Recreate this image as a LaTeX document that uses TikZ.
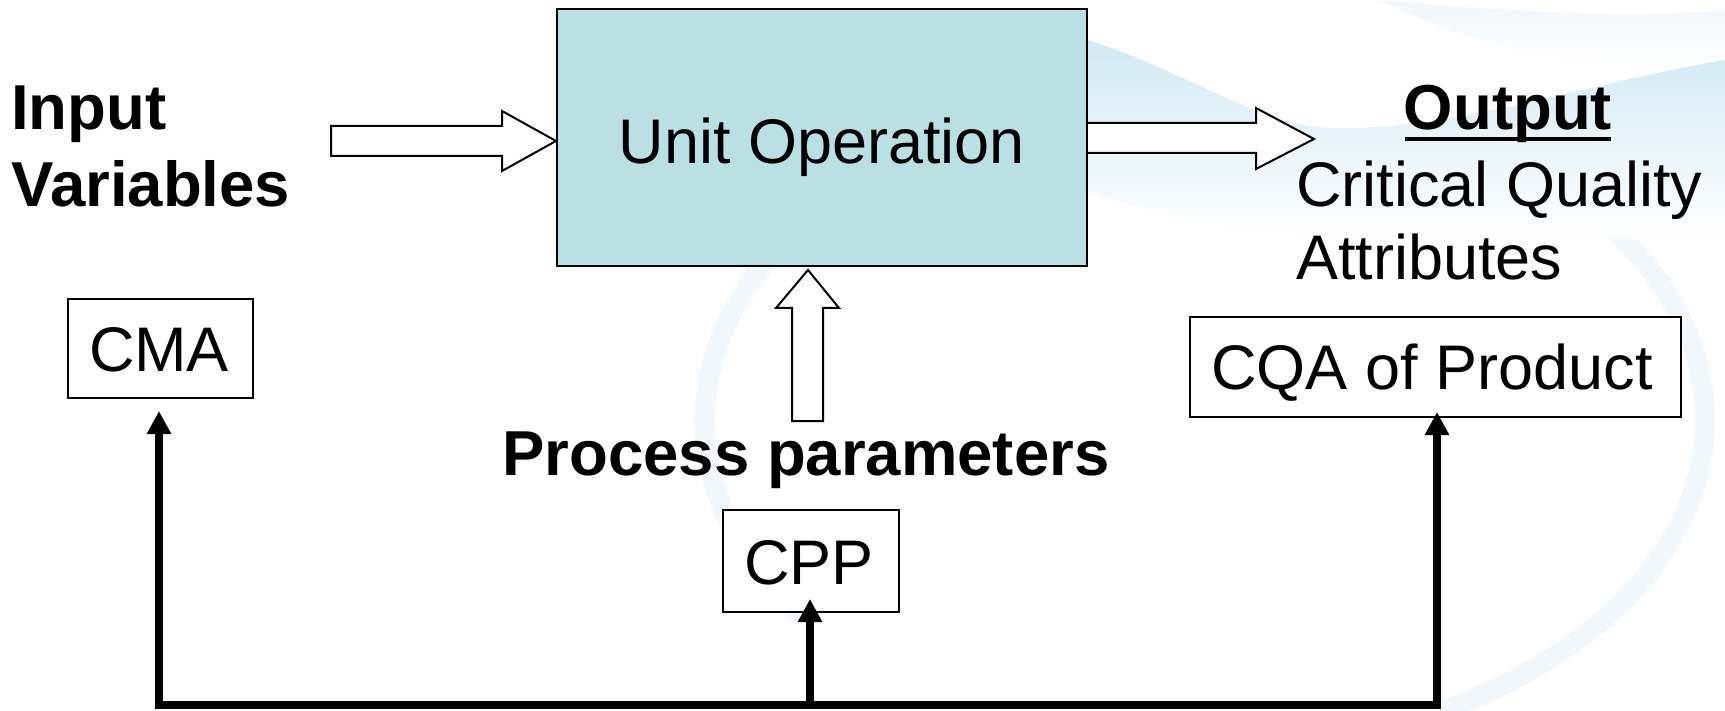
\documentclass[tikz,border=0pt]{standalone}
\usepackage{fontspec}
\setmainfont{Liberation Sans}
\usetikzlibrary{arrows.meta,calc}
\definecolor{uofill}{RGB}{187,224,228}
\definecolor{swirl}{RGB}{205,231,242}
\definecolor{ringc}{RGB}{241,247,251}

\begin{document}
\begin{tikzpicture}[x=1pt,y=-1pt,
  txt/.style={inner sep=0pt, font=\fontsize{63}{74}\selectfont},
  btxt/.style={inner sep=0pt, font=\fontsize{63.5}{76}\selectfont\bfseries},
  frame/.style={draw=black, line width=2.5pt, inner sep=0pt, fill=white},
  blockarrow/.style={draw=black, line width=2pt, fill=white, line join=miter},
  fb/.style={line width=8pt, line join=miter, line cap=butt},
  fbtip/.style={-{Triangle[length=23pt,width=23pt]}},
  ring/.style={ringc, line width=20pt}
]
\useasboundingbox (0,0) rectangle (1725,711);

% soft background swirl: two faint arcs of a large ring and a swoosh
\begin{scope}
  \clip (600,200) rectangle (800,620);
  \draw[ring] (1205,420) ellipse [x radius=500, y radius=330];
\end{scope}
\begin{scope}
  \clip (1440,220) rectangle (1725,711);
  \draw[ring] (1205,420) ellipse [x radius=500, y radius=330];
\end{scope}
\begin{scope}
  \clip (0,0) rectangle (1725,711);
  \path[top color=swirl, bottom color=white]
    (1000,20) .. controls (1150,40) and (1240,125) .. (1330,128)
    .. controls (1450,132) and (1600,80) .. (1725,60)
    -- (1725,240) .. controls (1600,240) and (1450,235) .. (1330,235)
    .. controls (1200,230) and (1100,200) .. (1000,160) -- cycle;
  \path[top color=ringc, bottom color=white]
    (1380,0) .. controls (1500,10) and (1620,20) .. (1725,10)
    -- (1725,60) .. controls (1620,70) and (1500,60) .. (1380,0) -- cycle;
\end{scope}

% process block
\node[draw=black, line width=2pt, fill=uofill, minimum width=530pt, minimum height=257pt] (uo) at (822,137.5) {};
\node[txt, anchor=base] (uotext) at (822,164) {Unit Operation};

% input side
\node[btxt, anchor=base west] (input) at (11,130) {Input};
\node[btxt, anchor=base west] (vars) at (11,207) {Variables};
\node[frame, minimum width=185pt, minimum height=99pt] (cma) at (160.5,348.5) {};
\node[txt, anchor=base] (cmatext) at (159,372) {CMA};

% output side
\node[btxt, anchor=base] (out) at (1508,130) {Output};
\draw[line width=4.5pt] ($(out.base west)+(1,9)$) -- ($(out.base east)+(-1,9)$);
\node[txt, anchor=base west] (cqa1) at (1296,207) {Critical Quality};
\node[txt, anchor=base west] (cqa2) at (1296,280) {Attributes};
\node[frame, minimum width=491pt, minimum height=100pt] (cqa) at (1435.5,367) {};
\node[txt, anchor=base] (cqatext) at (1432,389) {CQA of Product};

% process parameters
\node[btxt, anchor=base] (pp) at (806,475) {Process parameters};
\node[frame, minimum width=176pt, minimum height=102pt] (cpp) at (811,561) {};
\node[txt, anchor=base] (cpptext) at (809,584) {CPP};

% hollow block arrows
\draw[blockarrow] (331,126) -- (502,126) -- (502,111) -- (uo.west |- 0,141)
  -- (502,171) -- (502,156) -- (331,156) -- cycle;
\draw[blockarrow] (uo.east |- 0,123) -- (1256,123) -- (1256,108) -- (1314,139)
  -- (1256,169) -- (1256,153) -- (uo.east |- 0,153);
\draw[blockarrow] (808,270) -- (839,308) -- (823,308) -- (823,421)
  -- (792,421) -- (792,308) -- (776,308) -- cycle;

% feedback bus
\coordinate (bus) at (0,705);
\coordinate (cmatip) at (159,411);
\coordinate (cqatip) at (1437,412);
\coordinate (cpptip) at (810,599);
\draw[fb, {Triangle[length=23pt,width=23pt]}-{Triangle[length=23pt,width=23pt]}]
  (cmatip) -- (cmatip |- bus) -- (cqatip |- bus) -- (cqatip);
\draw[fb, fbtip] (cpptip |- bus) -- (cpptip);
\end{tikzpicture}
\end{document}
